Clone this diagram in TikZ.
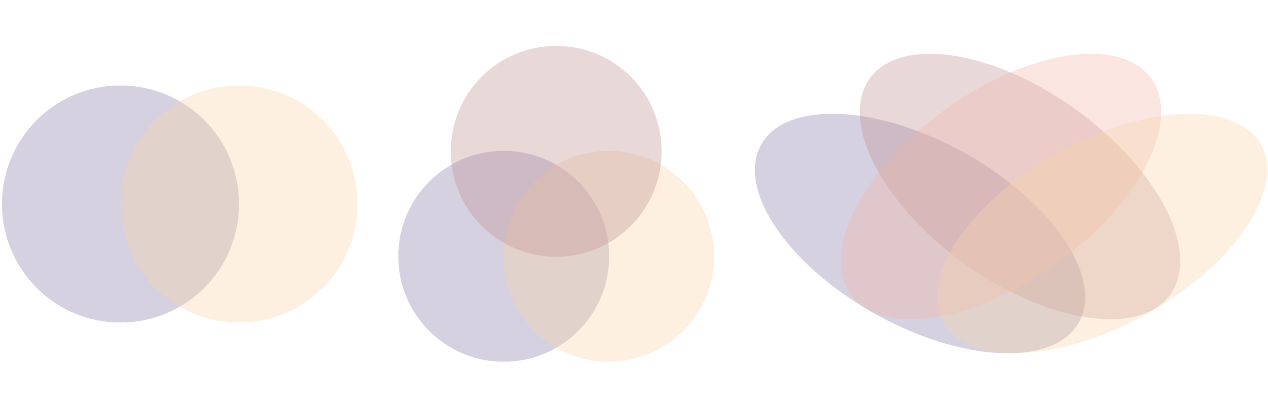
\documentclass[tikz,border=0pt]{standalone}
\definecolor{lavC}{RGB}{135,124,166}
\definecolor{peachC}{RGB}{249,212,169}
\definecolor{brownC}{RGB}{192,144,144}
\definecolor{pinkC}{RGB}{241,181,169}
\tikzset{
  setlav/.style={fill=lavC, fill opacity=0.35, draw=none},
  setpeach/.style={fill=peachC, fill opacity=0.35, draw=none},
  setbrown/.style={fill=brownC, fill opacity=0.35, draw=none},
  setpink/.style={fill=pinkC, fill opacity=0.35, draw=none}
}
\begin{document}
\begin{tikzpicture}[x=1pt,y=-1pt]
\useasboundingbox (0,0) rectangle (1268,418);
% two-set diagram
\path[setlav] (120.5,204) circle[radius=118.5pt];
\path[setpeach] (239,204) circle[radius=118.5pt];
% three-set diagram
\path[setlav] (503.7,256.3) circle[radius=105.4pt];
\path[setpeach] (608.7,256.3) circle[radius=105.4pt];
\path[setbrown] (556.2,151.3) circle[radius=105.4pt];
% four-set diagram
\path[setlav, rotate around={-29.2:(920,233.5)}] (920,233.5) ellipse[x radius=182pt, y radius=92pt];
\path[setbrown, rotate around={-35.7:(1020,186.5)}] (1020,186.5) ellipse[x radius=185pt, y radius=95pt];
\path[setpink, rotate around={35.7:(1001,186.5)}] (1001,186.5) ellipse[x radius=185pt, y radius=95pt];
\path[setpeach, rotate around={29.2:(1102,233.5)}] (1102,233.5) ellipse[x radius=182pt, y radius=92pt];
\end{tikzpicture}
\end{document}
